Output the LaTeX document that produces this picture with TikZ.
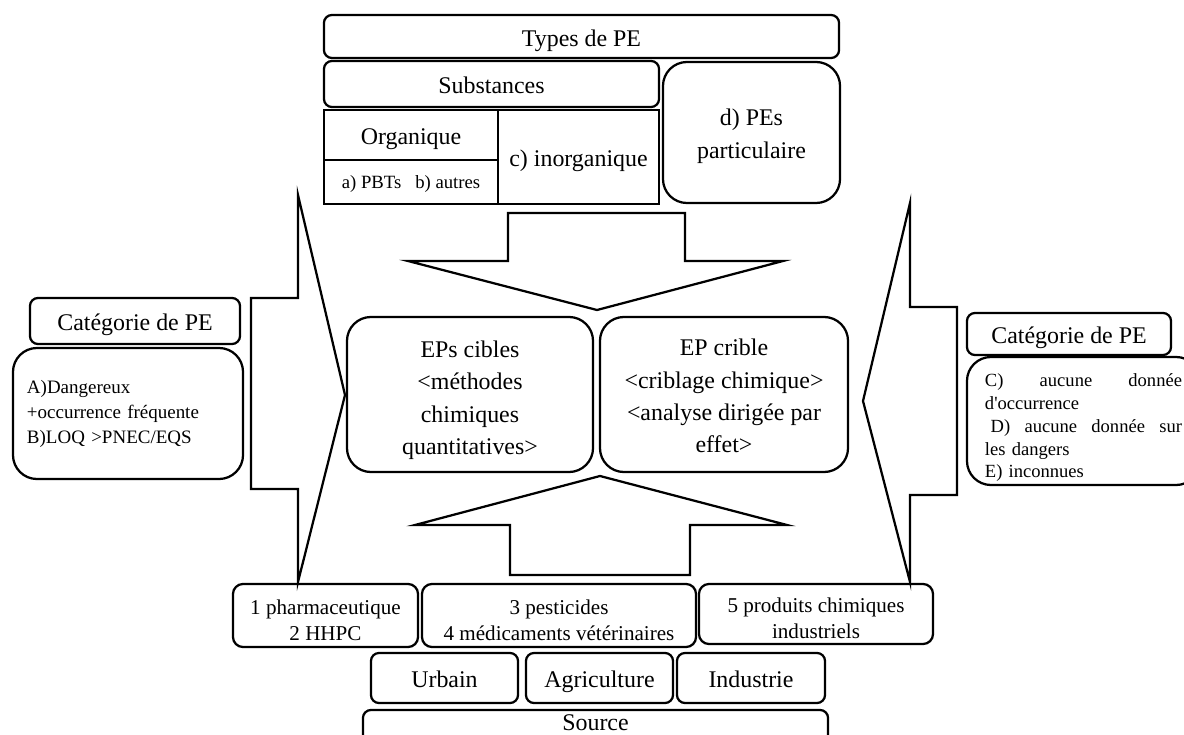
\documentclass[tikz,border=0pt]{standalone}
\usepackage{fontspec}
\setmainfont{Liberation Serif}
\begin{document}
\begin{tikzpicture}[x=0.025cm,y=-0.025cm,
  pebox/.style={draw, line width=1.6pt, rounded corners=0.2cm, align=center, inner sep=0pt, font={\fontsize{17}{23}\selectfont}},
  bigbox/.style={pebox, rounded corners=0.6cm},
  cell/.style={draw, line width=1.6pt, align=center, inner sep=0pt, font={\fontsize{17}{23}\selectfont}},
  srcbox/.style={pebox, rounded corners=0.25cm, font={\fontsize{15}{18.5}\selectfont}},
  oneline/.style={text height=3ex, text depth=0ex},
  bigarrow/.style={draw, line width=1.6pt, line join=miter}]
  \useasboundingbox (0,0) rectangle (1184,735);

  % Drawing arrow down (types)
  \draw[bigarrow] (508,213) -- (685,213) -- (685,261) -- (783,261) -- (597,310) -- (408,261) -- (508,261) -- cycle;
  % Drawing arrow up (sources)
  \draw[bigarrow] (510,575) -- (690,575) -- (690,525) -- (787,525) -- (600,476) -- (415,525) -- (510,525) -- cycle;
  % Drawing arrow right (categorie A B)
  \draw[bigarrow] (251,298) -- (298,298) -- (298,195) -- (345,395) -- (298,582) -- (298,489) -- (251,489) -- cycle;
  % Drawing arrow left (categorie C D E)
  \draw[bigarrow] (957,307) -- (910,307) -- (910,203) -- (863,401) -- (910,582) -- (910,495) -- (957,495) -- cycle;

  % Types de PE
  \node[pebox, oneline, minimum width=12.875cm, minimum height=1.075cm] (types) at (581.5,36.5) {Types de PE};
  \node[pebox, oneline, minimum width=8.375cm, minimum height=1.15cm] (subst) at (491.5,84) {Substances};
  \node[cell, oneline, minimum width=4.35cm, minimum height=1.25cm] (organ) at (411,135) {Organique};
  \node[cell, text height=2.1ex, text depth=0.1ex, minimum width=4.35cm, minimum height=1.1cm, font={\fontsize{13.3}{16}\selectfont}] (pbts) at (411,182) {a) PBTs\ \ \ b) autres};
  \node[cell, oneline, minimum width=4.025cm, minimum height=2.35cm] (inorg) at (578.5,157) {c) inorganique};
  \node[bigbox, minimum width=4.425cm, minimum height=3.525cm] (partic) at (751.5,132.5) {\rule{0pt}{17pt}d) PEs\\particulaire};

  % Categorie de PE, left
  \node[pebox, oneline, minimum width=5.25cm, minimum height=1.15cm] (catl) at (135,321) {Catégorie de PE};
  \node[bigbox, align=left, text width=5.05cm, inner xsep=0.35cm, minimum width=5.75cm, minimum height=3.275cm,
    font={\fontsize{13.5}{17.8}\selectfont}] (dangl) at (128,413.5) {A)Dangereux\\+occurrence fréquente\\B)LOQ >PNEC/EQS};

  % Categorie de PE, right
  \node[pebox, oneline, minimum width=5.1cm, minimum height=1.05cm] (catr) at (1069,334) {Catégorie de PE};
  \node[bigbox, align=left, text width=4.925cm, inner xsep=0.45cm, minimum width=5.825cm, minimum height=3.2cm,
    font={\fontsize{13.2}{16.2}\selectfont}] (dangr) at (1083.5,421)
    {\rule{0pt}{19pt}C)\hfill aucune\hfill donnée\\d\textquotesingle occurrence\\\hspace*{4pt}D)\hfill aucune\hfill donnée\hfill sur\\les dangers\\E) inconnues};

  % EPs, centre
  \node[bigbox, minimum width=6.15cm, minimum height=3.875cm] (cibles) at (470,394.5) {\rule{0pt}{20pt}EPs cibles\\<méthodes\\chimiques\\quantitatives>};
  \node[bigbox, minimum width=6.2cm, minimum height=3.875cm] (crible) at (724,394.5) {\rule{0pt}{14pt}EP crible\\<criblage chimique>\\<analyse dirigée par\\effet>};

  % Sources
  \node[srcbox, minimum width=4.625cm, minimum height=1.575cm] (pharma) at (325.5,615.5) {\rule{0pt}{17pt}1 pharmaceutique\\2 HHPC};
  \node[srcbox, minimum width=6.85cm, minimum height=1.575cm] (pest) at (559,615.5) {\rule{0pt}{17pt}3 pesticides\\4 médicaments vétérinaires};
  \node[srcbox, minimum width=5.85cm, minimum height=1.5cm] (prod) at (816,614) {\rule{0pt}{17pt}5 produits chimiques\\industriels};
  \node[pebox, oneline, minimum width=3.675cm, minimum height=1.25cm] (urbain) at (444.5,678) {Urbain};
  \node[pebox, oneline, minimum width=3.675cm, minimum height=1.25cm] (agri) at (599.5,678) {Agriculture};
  \node[pebox, oneline, minimum width=3.7cm, minimum height=1.25cm] (indus) at (751,678) {Industrie};
  \node[pebox, text height=1.6ex, text depth=0.45ex, minimum width=11.625cm, minimum height=0.85cm] (source) at (595.5,727) {Source};
\end{tikzpicture}
\end{document}
